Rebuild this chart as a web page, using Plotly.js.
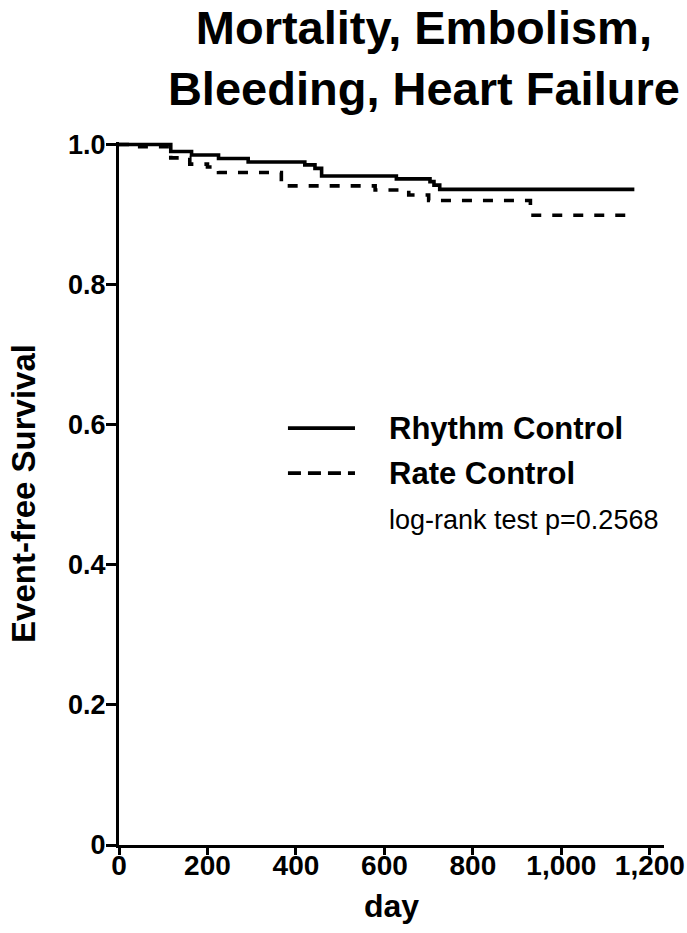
<!DOCTYPE html>
<html>
<head>
<meta charset="utf-8">
<script src="https://cdn.plot.ly/plotly-3.0.1.min.js"></script>
<style>html,body{margin:0;padding:0;background:#fff;}#chart{width:687px;height:933px;}</style>
</head>
<body>
<div id="chart"></div>
<script>
// Kaplan-Meier step data
const rhythmDays = [0, 117, 164, 225, 292, 420, 443, 458, 627, 703, 712, 725, 1165];
const rhythmSurv = [1.0, 0.990, 0.985, 0.980, 0.975, 0.971, 0.966, 0.955, 0.951, 0.947, 0.942, 0.936, 0.936];
const rateDays = [0, 40, 117, 160, 200, 225, 367, 579, 655, 700, 930, 1160];
const rateSurv = [1.0, 0.997, 0.981, 0.972, 0.968, 0.960, 0.941, 0.935, 0.928, 0.920, 0.899, 0.899];
const seriesNames = ["Rhythm Control", "Rate Control"];
const yTickVals = [0, 0.2, 0.4, 0.6, 0.8, 1.0];
const yTickText = ["0", "0.2", "0.4", "0.6", "0.8", "1.0"];
const xTickVals = [0, 200, 400, 600, 800, 1000, 1200];
const xTickText = ["0", "200", "400", "600", "800", "1,000", "1,200"];
const chartTitle = "Mortality, Embolism,<br>Bleeding, Heart Failure";
const pText = "log-rank test p=0.2568";

const FONT = "Liberation Sans, Arial, Helvetica, sans-serif";

const traces = [
  {x: rhythmDays, y: rhythmSurv, name: seriesNames[0], mode: "lines",
   line: {shape: "hv", color: "#000", width: 3.6}, cliponaxis: false},
  {x: rateDays, y: rateSurv, name: seriesNames[1], mode: "lines",
   line: {shape: "hv", color: "#000", width: 3.6, dash: "10px,11px"}, cliponaxis: false}
];

const layout = {
  width: 687, height: 933,
  margin: {l: 119, r: 23, t: 142, b: 88},
  paper_bgcolor: "#fff", plot_bgcolor: "#fff",
  showlegend: false,
  font: {family: FONT, color: "#000"},
  title: {text: "<b>" + chartTitle.replace("<br>", "</b><br><b>") + "</b>",
          font: {family: FONT, size: 47, color: "#000"},
          x: 0.617, xanchor: "center", xref: "container",
          y: 0.953, yanchor: "top", yref: "container"},
  xaxis: {range: [0, 1232], showgrid: false, zeroline: false,
          showline: true, linecolor: "#000", linewidth: 3,
          ticks: "outside", ticklen: 7, tickwidth: 3, tickcolor: "#000",
          ticklabelstandoff: -14,
          tickvals: xTickVals, ticktext: xTickText,
          tickfont: {family: FONT, size: 28, color: "#000", weight: "bold"},
          title: {text: "<b>day</b>", font: {family: FONT, size: 32, color: "#000"}, standoff: 16},
          automargin: false},
  yaxis: {range: [0, 1.0036], showgrid: false, zeroline: false,
          showline: true, linecolor: "#000", linewidth: 3,
          ticks: "outside", ticklen: 10, tickwidth: 3, tickcolor: "#000",
          ticklabelstandoff: -5,
          tickvals: yTickVals, ticktext: yTickText,
          tickfont: {family: FONT, size: 27, color: "#000", weight: "bold"},
          title: {text: "<b>Event-free Survival</b>", font: {family: FONT, size: 33, color: "#000"}, standoff: 23},
          automargin: false},
  shapes: [
    {type: "line", xref: "paper", yref: "paper", x0: 0.310, x1: 0.433, y0: 0.593, y1: 0.593,
     line: {color: "#000", width: 3.6}},
    {type: "line", xref: "paper", yref: "paper", x0: 0.310, x1: 0.433, y0: 0.529, y1: 0.529,
     line: {color: "#000", width: 3.6, dash: "13px,7px"}}
  ],
  annotations: [
    {xref: "paper", yref: "paper", x: 0.492, y: 0.593, xanchor: "left", yanchor: "middle",
     text: "<b>" + seriesNames[0] + "</b>", showarrow: false, font: {family: FONT, size: 31, color: "#000"}},
    {xref: "paper", yref: "paper", x: 0.492, y: 0.529, xanchor: "left", yanchor: "middle",
     text: "<b>" + seriesNames[1] + "</b>", showarrow: false, font: {family: FONT, size: 31, color: "#000"}},
    {xref: "paper", yref: "paper", x: 0.492, y: 0.462, xanchor: "left", yanchor: "middle",
     text: pText, showarrow: false, font: {family: FONT, size: 27, color: "#000"}}
  ]
};

Plotly.newPlot("chart", traces, layout, {displayModeBar: false, staticPlot: true});
</script>
</body>
</html>
